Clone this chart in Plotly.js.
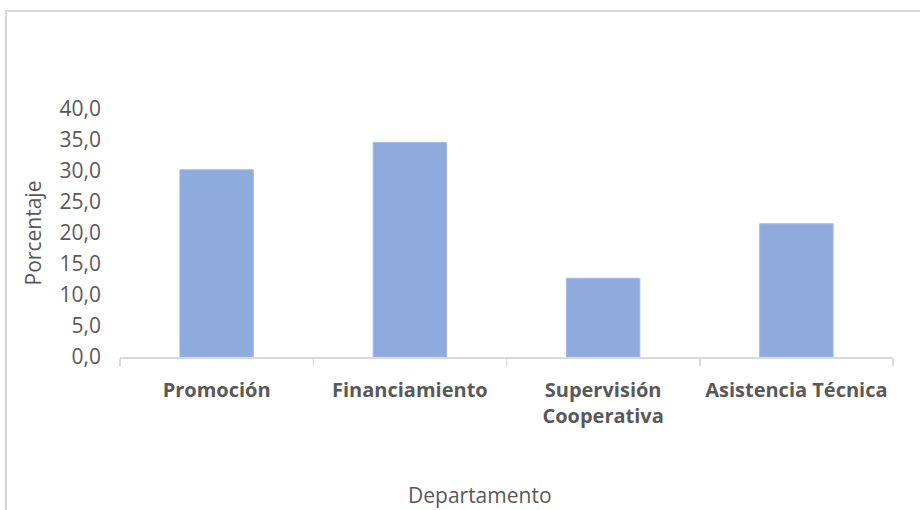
<!DOCTYPE html>
<html>
<head>
<meta charset="utf-8">
<script src="https://cdn.plot.ly/plotly-3.0.1.min.js"></script>
<style>
  html, body { margin: 0; padding: 0; background: #ffffff; overflow: hidden; }
  #frame { position: absolute; left: 5px; top: 10px; width: 1000px; height: 600px;
           border-left: 2px solid #d9d9d9; border-top: 2px solid #d9d9d9; }
  #chart { position: absolute; left: 0; top: 0; width: 920px; height: 510px; }
</style>
</head>
<body>
<div id="frame"></div>
<div id="chart"></div>
<script>
const categories = ["Promoción", "Financiamiento", "Supervisión<br>Cooperativa", "Asistencia Técnica"];
const porcentaje = [30.2, 34.6, 12.7, 21.5];
const yTickValues = [0, 5, 10, 15, 20, 25, 30, 35, 40];

const trace = {
  type: "bar",
  x: categories,
  y: porcentaje,
  marker: { color: "#8faadc", line: { color: "#a3b9e3", width: 1 } },
  hoverinfo: "x+y"
};

const layout = {
  width: 920,
  height: 510,
  paper_bgcolor: "rgba(0,0,0,0)",
  plot_bgcolor: "rgba(0,0,0,0)",
  margin: { l: 120, r: 27, t: 109, b: 153, pad: 0 },
  separators: ",.",
  bargap: 0.62,
  showlegend: false,
  font: { family: "Open Sans, sans-serif", color: "#595959" },
  xaxis: {
    type: "category",
    showline: true,
    linecolor: "#d9d9d9",
    linewidth: 1.5,
    ticks: "outside",
    tickson: "boundaries",
    ticklen: 7,
    tickcolor: "#d9d9d9",
    tickwidth: 1.5,
    showgrid: false,
    zeroline: false,
    ticklabelstandoff: 14,
    tickfont: { family: "Open Sans, sans-serif", size: 20, color: "#595959", weight: "bold" }
  },
  yaxis: {
    range: [0, 40],
    tickvals: yTickValues,
    tickformat: ".1f",
    showline: false,
    showgrid: false,
    zeroline: false,
    ticks: "",
    ticklabelstandoff: 18,
    tickfont: { family: "Open Sans, sans-serif", size: 21, color: "#595959" },
    title: { text: "Porcentaje", standoff: 12, font: { family: "Open Sans, sans-serif", size: 21, color: "#595959" } }
  },
  annotations: [{
    text: "Departamento",
    xref: "paper", yref: "paper",
    x: 0.4657, y: -0.558,
    xanchor: "center", yanchor: "middle",
    showarrow: false,
    font: { family: "Open Sans, sans-serif", size: 21, color: "#595959" }
  }]
};

Plotly.newPlot("chart", [trace], layout, { displayModeBar: false, staticPlot: true });
</script>
</body>
</html>
